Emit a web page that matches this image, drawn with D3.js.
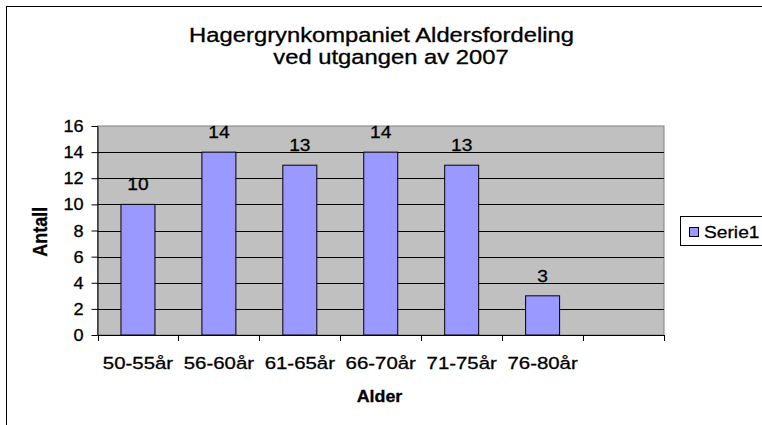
<!DOCTYPE html>
<html>
<head>
<meta charset="utf-8">
<script src="https://cdn.jsdelivr.net/npm/d3@7"></script>
<style>
  body { margin: 0; background: #fff; }
  svg { display: block; font-family: Arial, "Liberation Sans", sans-serif; }
  svg text { fill: #000; stroke: #000; stroke-width: 0.3px; }
</style>
</head>
<body>
<svg id="chart" width="762" height="425"></svg>
<script>
const categories = ['50-55år', '56-60år', '61-65år', '66-70år', '71-75år', '76-80år', ''];
const values = [10, 14, 13, 14, 13, 3, null];
const yTicks = [0, 2, 4, 6, 8, 10, 12, 14, 16];
const titleLines = ['Hagergrynkompaniet Aldersfordeling', 'ved utgangen av 2007'];
const seriesName = 'Serie1';

// the original picture is a bit wider than tall, so text is stretched sideways
const SX = 1.13;
const stretch = (x, y, sx = SX) => `translate(${x},${y}) scale(${sx},1)`;

const svg = d3.select('#chart');
const plot = { left: 97.5, right: 664, top: 126, bottom: 335 };

// outer chart border
svg.append('rect')
  .attr('x', 6.5).attr('y', 6.5)
  .attr('width', 900).attr('height', 600)
  .attr('fill', '#fff')
  .attr('stroke', '#000');

// title
svg.append('text')
  .attr('transform', stretch(381.5, 42, 1.22))
  .attr('text-anchor', 'middle')
  .attr('font-size', 19.5)
  .text(titleLines[0]);
svg.append('text')
  .attr('transform', stretch(391, 64, 1.22))
  .attr('text-anchor', 'middle')
  .attr('font-size', 19.5)
  .text(titleLines[1]);

const x = d3.scaleBand()
  .domain(categories)
  .range([plot.left, plot.right])
  .paddingInner(0.58)
  .paddingOuter(0.29);

const xEdges = d3.scaleBand()
  .domain(categories)
  .range([plot.left, plot.right])
  .padding(0);

const y = d3.scaleLinear()
  .domain([0, 16])
  .range([plot.bottom, plot.top]);

// plot background
svg.append('rect')
  .attr('x', plot.left).attr('y', plot.top)
  .attr('width', plot.right - plot.left)
  .attr('height', plot.bottom - plot.top)
  .attr('fill', '#c0c0c0')
  .attr('stroke', '#808080');

// gridlines
svg.append('g')
  .selectAll('line')
  .data(yTicks.filter(d => d > 0 && d < 16))
  .join('line')
  .attr('x1', plot.left).attr('x2', plot.right)
  .attr('y1', d => Math.round(y(d)) + 0.5)
  .attr('y2', d => Math.round(y(d)) + 0.5)
  .attr('stroke', '#000');

const barData = categories.map((c, i) => ({ c, v: values[i] })).filter(d => d.v != null);

// bars
svg.append('g')
  .selectAll('rect')
  .data(barData)
  .join('rect')
  .attr('x', d => x(d.c))
  .attr('y', d => y(d.v))
  .attr('width', x.bandwidth())
  .attr('height', d => y(0) - y(d.v))
  .attr('fill', '#9999ff')
  .attr('stroke', '#000');

// value labels
svg.append('g')
  .selectAll('text')
  .data(barData)
  .join('text')
  .attr('transform', d => stretch(x(d.c) + x.bandwidth() / 2, y(d.v) - 14))
  .attr('text-anchor', 'middle')
  .attr('font-size', 17)
  .text(d => d.v);

// y axis
const yAxis = svg.append('g')
  .attr('transform', `translate(${plot.left},0)`)
  .call(d3.axisLeft(y).tickValues(yTicks).tickSize(6).tickSizeOuter(0));
yAxis.select('.domain').attr('stroke', '#000');
yAxis.selectAll('.tick line').attr('stroke', '#000');
yAxis.selectAll('.tick text')
  .attr('x', null).attr('dy', '0.35em')
  .attr('transform', `translate(-14,0) scale(${SX},1)`)
  .attr('font-size', 16)
  .attr('font-family', null);

// x axis with ticks on category edges
svg.append('line')
  .attr('x1', plot.left).attr('x2', plot.right)
  .attr('y1', plot.bottom + 0.5).attr('y2', plot.bottom + 0.5)
  .attr('stroke', '#000');
svg.append('g')
  .selectAll('line')
  .data(categories.map(c => xEdges(c)).concat([plot.right]))
  .join('line')
  .attr('x1', d => Math.round(d) + 0.5).attr('x2', d => Math.round(d) + 0.5)
  .attr('y1', plot.bottom).attr('y2', plot.bottom + 6)
  .attr('stroke', '#000');
svg.append('g')
  .selectAll('text')
  .data(categories)
  .join('text')
  .attr('transform', d => stretch(x(d) + x.bandwidth() / 2, 369.3, 1.2))
  .attr('text-anchor', 'middle')
  .attr('font-size', 17)
  .text(d => d);

// axis titles
svg.append('text')
  .attr('transform', stretch(379.5, 402.3, 1.05))
  .attr('text-anchor', 'middle')
  .attr('font-size', 17)
  .attr('font-weight', 'bold')
  .text('Alder');
svg.append('text')
  .attr('transform', `translate(46.7,231.7) scale(${SX},1) rotate(-90)`)
  .attr('text-anchor', 'middle')
  .attr('font-size', 18)
  .attr('font-weight', 'bold')
  .text('Antall');

// legend
const legend = svg.append('g');
legend.append('rect')
  .attr('x', 680.5).attr('y', 216.5)
  .attr('width', 200).attr('height', 29)
  .attr('fill', '#fff')
  .attr('stroke', '#000');
legend.append('rect')
  .attr('x', 689.5).attr('y', 227.5)
  .attr('width', 9).attr('height', 9)
  .attr('fill', '#9999ff')
  .attr('stroke', '#000');
legend.append('text')
  .attr('transform', stretch(704, 237.5))
  .attr('font-size', 17)
  .text(seriesName);
</script>
</body>
</html>
